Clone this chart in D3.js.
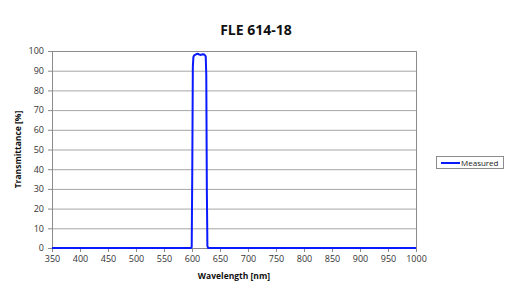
<!DOCTYPE html>
<html>
<head>
<meta charset="utf-8">
<title>FLE 614-18</title>
<script src="https://d3js.org/d3.v7.min.js"></script>
<style>
  body { margin: 0; background: #fff; }
  text { font-family: "Open Sans", "DejaVu Sans", sans-serif; }
</style>
</head>
<body>
<script>
// measured transmittance curve
var wavelength = [350, 450, 550, 598, 599.5, 600.5, 601.5, 602.5, 604, 607, 610, 613, 616, 619, 622, 624.5, 625.5, 626.5, 627.5, 629, 700, 800, 900, 1000];
var transmittance = [0, 0, 0, 0, 0.5, 40, 92, 97, 97.8, 98.3, 98.6, 98.2, 98.0, 98.4, 98.2, 97.3, 88, 30, 1, 0, 0, 0, 0, 0];
var xTicks = [350, 400, 450, 500, 550, 600, 650, 700, 750, 800, 850, 900, 950, 1000];
var yTicks = [0, 10, 20, 30, 40, 50, 60, 70, 80, 90, 100];
var seriesName = "Measured";

var W = 510, H = 300;
var m = {top: 51, right: 94, bottom: 52, left: 52};
var width = W - m.left - m.right;
var height = H - m.top - m.bottom;

var svg = d3.select("body").append("svg")
  .attr("width", W)
  .attr("height", H);

// title
svg.append("text")
  .attr("x", 256)
  .attr("y", 35)
  .attr("text-anchor", "middle")
  .attr("font-size", 14)
  .attr("font-weight", "bold")
  .attr("fill", "#111")
  .text("FLE 614-18");

var g = svg.append("g")
  .attr("transform", "translate(" + m.left + "," + m.top + ")");

var x = d3.scaleLinear().domain([350, 1000]).range([0, width]);
var y = d3.scaleLinear().domain([0, 100]).range([height, 0]);

// horizontal grid
g.append("g")
  .selectAll("line")
  .data(yTicks)
  .join("line")
  .attr("x1", 0)
  .attr("x2", width)
  .attr("y1", d => y(d) + 0.5)
  .attr("y2", d => y(d) + 0.5)
  .attr("stroke", "#a6a6a6")
  .attr("stroke-width", 1);

// plot border
g.append("rect")
  .attr("x", 0.5)
  .attr("y", 0.5)
  .attr("width", width)
  .attr("height", height)
  .attr("fill", "none")
  .attr("stroke", "#8c8c8c");

// y axis
var yAxis = g.append("g")
  .call(d3.axisLeft(y).tickValues(yTicks).tickSize(4).tickPadding(4));
yAxis.select(".domain").attr("stroke", "#8c8c8c");
yAxis.selectAll(".tick line").attr("stroke", "#8c8c8c");
yAxis.selectAll("text").attr("font-size", 9).attr("fill", "#333");

// x axis
var xAxis = g.append("g")
  .attr("transform", "translate(0," + height + ")")
  .call(d3.axisBottom(x).tickValues(xTicks).tickFormat(d3.format("d")).tickSize(4).tickPadding(4));
xAxis.select(".domain").attr("stroke", "#8c8c8c");
xAxis.selectAll(".tick line").attr("stroke", "#8c8c8c");
xAxis.selectAll("text").attr("font-size", 9).attr("fill", "#333");

// curve
var line = d3.line()
  .x((d, i) => x(wavelength[i]))
  .y(d => y(d));

g.append("path")
  .datum(transmittance)
  .attr("d", line)
  .attr("fill", "none")
  .attr("stroke", "#0a1aff")
  .attr("stroke-width", 2)
  .attr("stroke-linejoin", "round");

// axis titles
svg.append("text")
  .attr("x", m.left + width / 2)
  .attr("y", 279)
  .attr("text-anchor", "middle")
  .attr("font-size", 8.5)
  .attr("font-weight", "bold")
  .attr("fill", "#111")
  .text("Wavelength [nm]");

svg.append("text")
  .attr("transform", "translate(21," + (m.top + height / 2) + ") rotate(-90)")
  .attr("text-anchor", "middle")
  .attr("font-size", 8.5)
  .attr("font-weight", "bold")
  .attr("fill", "#111")
  .text("Transmittance [%]");

// legend
var lg = svg.append("g").attr("transform", "translate(436,156)");
lg.append("rect")
  .attr("x", 0.5).attr("y", 0.5)
  .attr("width", 67).attr("height", 12)
  .attr("fill", "#fff")
  .attr("stroke", "#8c8c8c");
lg.append("line")
  .attr("x1", 5).attr("x2", 24)
  .attr("y1", 7).attr("y2", 7)
  .attr("stroke", "#0a1aff")
  .attr("stroke-width", 2);
lg.append("text")
  .attr("x", 25).attr("y", 10)
  .attr("font-size", 8)
  .attr("fill", "#222")
  .text(seriesName);
</script>
</body>
</html>
